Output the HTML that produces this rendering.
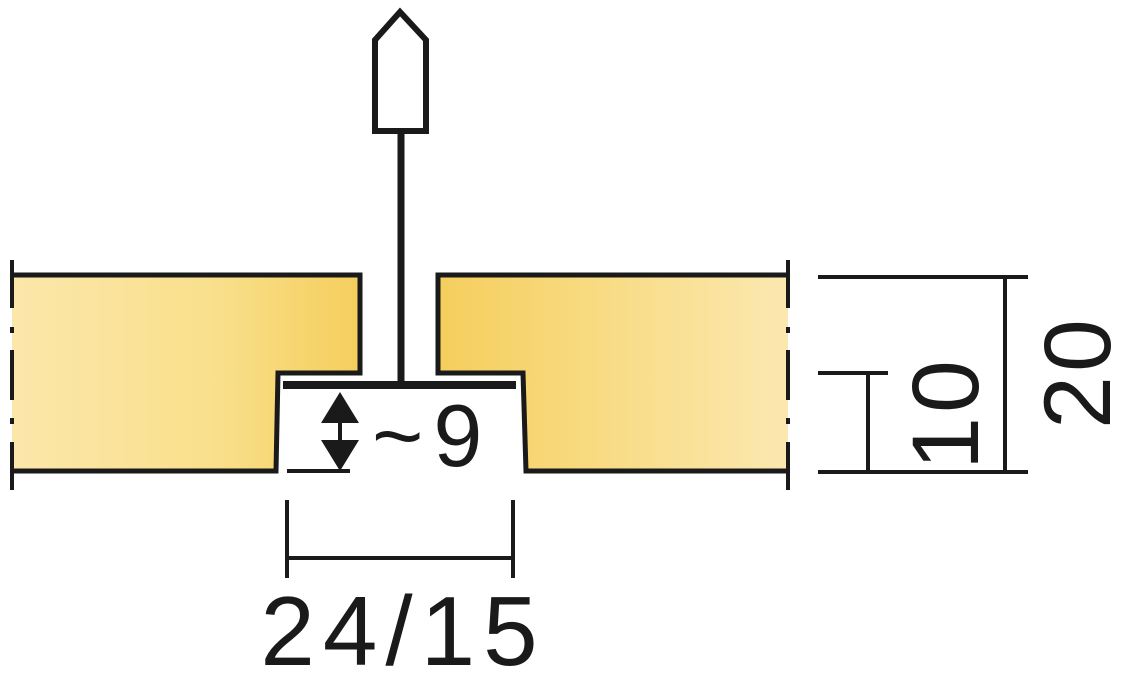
<!DOCTYPE html>
<html><head><style>
html,body{margin:0;padding:0;background:#fff;}
svg{display:block;}
text{font-family:"Liberation Sans",sans-serif;fill:#1a1a1a;}
</style></head><body>
<svg width="1138" height="685" viewBox="0 0 1138 685" xmlns="http://www.w3.org/2000/svg">
<defs>
<linearGradient id="gl" x1="0" x2="1" y1="0" y2="0">
<stop offset="0" stop-color="#fbe7ab"/><stop offset="0.6" stop-color="#f9df8a"/><stop offset="1" stop-color="#f5ce5c"/>
</linearGradient>
<linearGradient id="gr" x1="0" x2="1" y1="0" y2="0">
<stop offset="0" stop-color="#f5ce5c"/><stop offset="0.5" stop-color="#f8dc86"/><stop offset="1" stop-color="#fbe8b0"/>
</linearGradient>
</defs>
<g stroke="#1a1a1a" stroke-width="5" fill="none">
<path d="M12 275 H360 V373 H278 L276 471 H12 Z" fill="url(#gl)" stroke="none"/>
<path d="M12 275 H360 V373 H278 L276 471 H12"/>
<path d="M788 275 H438 V373 H523 L526 471 H788 Z" fill="url(#gr)" stroke="none"/>
<path d="M788 275 H438 V373 H523 L526 471 H788"/>
<path d="M12 260 V308 M12 327 V333 M12 350 V400 M12 418 V424 M12 442 V490" stroke-width="4"/>
<path d="M788 260 V308 M788 327 V333 M788 350 V400 M788 418 V424 M788 442 V490" stroke-width="4"/>
<path d="M375 40 L400 12 L426 40 V131 H375 Z" stroke-width="6"/>
<line x1="401" y1="131" x2="401" y2="382" stroke-width="7"/>
<line x1="283" y1="385" x2="516" y2="385" stroke-width="8"/>
<line x1="287" y1="471" x2="350" y2="471" stroke-width="4"/>
<line x1="340" y1="405" x2="340" y2="460" stroke-width="4"/>
<path d="M287 500 V578 M513 500 V578 M287 558 H513" stroke-width="4"/>
<path d="M818 277 H1028 M818 373 H888 M818 472 H1028 M868 373 V472 M1005 277 V472" stroke-width="4"/>
</g>
<polygon points="340,392 321,423 359,423" fill="#1a1a1a"/>
<polygon points="340,471 321,440 359,440" fill="#1a1a1a"/>
<text x="372" y="466" font-size="88" letter-spacing="10">~9</text>
<text x="403" y="665" font-size="98" text-anchor="middle" letter-spacing="8">24/15</text>
<text transform="translate(978,413) rotate(-90)" font-size="95" text-anchor="middle" letter-spacing="4">10</text>
<text transform="translate(1110,372) rotate(-90)" font-size="95" text-anchor="middle" letter-spacing="4">20</text>
</svg>
</body></html>
